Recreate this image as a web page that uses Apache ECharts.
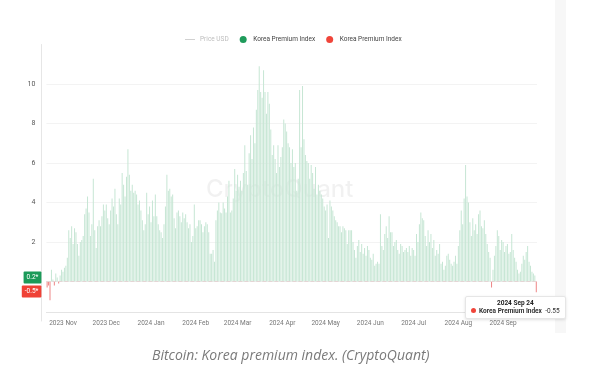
<!DOCTYPE html>
<html><head><meta charset="utf-8">
<script src="https://cdn.jsdelivr.net/npm/echarts@6/dist/echarts.min.js"></script>
<style>html,body{margin:0;padding:0;background:#fff;}#c{width:615px;height:391px;}</style>
</head><body><div id="c"></div>
<script>
const startDate = '2023-10-21';
const kpiValues = [
-0.3,-0.2,-0.95,0.6,0.1,-0.2,0.4,0.2,-0.1,0.3,
0.6,0.5,0.7,0.8,1.2,2.6,2.2,2.8,1.9,2.7,
2.5,1.9,1.3,2.0,2.1,2.3,3.4,3.7,4.3,3.5,
2.3,2.9,5.2,2.6,1.7,2.8,3.1,2.8,3.3,3.9,
3.6,3.9,3.2,2.9,3.6,4.2,3.8,4.7,3.4,2.9,
4.2,3.9,5.5,4.9,4.3,5.3,6.7,5.4,4.6,4.9,
4.5,4.6,4.4,3.9,4.1,3.6,3.1,2.6,2.9,4.5,
3.4,3.8,3.0,4.1,3.3,4.4,3.3,2.9,2.6,2.5,
2.2,2.9,3.8,5.4,4.6,4.7,4.3,4.4,3.2,2.7,
3.5,3.6,3.3,3.0,3.5,3.2,3.4,3.0,2.7,2.9,
2.0,2.3,3.9,2.7,2.8,3.1,3.1,2.9,2.5,2.8,
3.0,2.9,2.5,1.4,1.4,1.6,1.0,3.1,3.6,4.0,
3.5,3.45,4.0,3.7,3.5,4.3,5.1,3.5,3.6,4.2,
5.7,4.6,5.4,4.8,5.1,4.6,5.5,6.9,5.6,4.9,
6.5,7.4,6.2,7.8,7.0,8.7,9.7,10.9,9.6,9.3,
10.7,9.6,8.5,9.6,9.0,7.7,6.4,6.9,6.2,5.5,
6.9,5.8,6.3,6.8,8.2,8.0,7.6,7.0,6.8,6.0,
6.7,5.8,6.0,4.6,5.2,9.7,6.8,9.9,7.2,6.4,
6.1,6.0,5.2,5.9,5.5,4.7,5.8,4.4,4.9,4.6,
4.4,4.2,3.8,3.6,3.9,2.2,4.1,3.8,3.6,3.3,
3.1,3.0,2.8,2.8,2.5,2.8,2.7,2.6,1.9,2.6,
2.6,2.6,2.0,1.6,1.2,1.8,2.1,1.5,1.9,1.4,
1.7,1.3,1.8,1.6,1.2,1.1,1.4,0.8,0.9,1.0,
0.9,3.4,1.8,1.6,2.4,2.8,2.2,3.3,2.5,2.5,
1.8,2.0,2.1,1.6,1.4,1.9,1.8,1.5,1.6,1.7,
1.5,1.8,1.3,1.7,1.6,1.3,2.4,2.0,2.9,3.5,
3.2,3.1,2.3,1.8,2.6,2.0,2.4,1.7,2.1,1.3,
1.6,1.4,1.9,0.9,1.0,0.6,0.8,1.3,1.4,1.1,
0.9,0.8,1.0,1.3,0.9,1.8,2.6,3.6,2.9,4.2,
5.9,4.3,4.0,3.0,2.3,3.2,2.6,2.9,2.4,3.4,
3.6,2.8,2.7,3.1,2.4,1.9,1.5,1.2,-0.3,0.6,
1.3,1.8,2.6,2.3,1.6,2.1,2.0,1.5,1.8,1.9,
1.4,1.5,2.4,1.6,1.2,1.0,0.6,0.4,0.5,0.9,
1.3,1.1,1.5,1.8,1.0,0.8,0.5,0.4,0.3,-0.55
];
const priceUSD = [];
const yAxisRange = [-2, 12];
const yStep = 2;
const badgeValues = [0.2, -0.5];
const badgeLabels = ['0.2*', '-0.5*'];
const legendLabels = {price: 'Price USD', pos: 'Korea Premium Index', neg: 'Korea Premium Index'};
const monthNames = ['Jan','Feb','Mar','Apr','May','Jun','Jul','Aug','Sep','Oct','Nov','Dec'];
const watermark = 'CryptoQuant';
const caption = 'Bitcoin: Korea premium index. (CryptoQuant)';

const dates = [];
const d0 = new Date(startDate + 'T00:00:00Z').getTime();
for (let i = 0; i < kpiValues.length; i++) {
  dates.push(new Date(d0 + i * 86400000).toISOString().slice(0, 10));
}
const monthLabel = s => s.slice(0, 4) + ' ' + monthNames[+s.slice(5, 7) - 1];
const dayLabel = s => monthLabel(s) + ' ' + s.slice(8, 10);
const isMonthStart = (i, v) => v.endsWith('-01');
const posData = kpiValues.map(v => v >= 0 ? v : '-');
const negData = kpiValues.map(v => v < 0 ? v : '-');

const FONT = 'Roboto, "Noto Sans", sans-serif';
const chart = echarts.init(document.getElementById('c'), null, {renderer: 'canvas'});
chart.setOption({
  animation: false,
  textStyle: {fontFamily: FONT},
  legend: {
    left: 180, top: 31, itemWidth: 10, itemHeight: 7, itemGap: 11,
    textStyle: {fontSize: 6.5, color: '#444', fontFamily: FONT},
    inactiveColor: '#bdbdbd',
    selected: {price: false},
    formatter: n => legendLabels[n],
    data: [
      {name: 'price', icon: 'path://M0,0H20V1.4H0Z'},
      {name: 'pos', icon: 'circle', itemStyle: {color: '#1f9b5b'}},
      {name: 'neg', icon: 'circle', itemStyle: {color: '#f0453a'}}
    ]
  },
  grid: {left: 46.4, right: 78, top: 44.5, bottom: 70},
  xAxis: {
    type: 'category', data: dates, boundaryGap: true, offset: -9,
    axisLine: {onZero: false, lineStyle: {color: '#e4e4e4'}},
    axisTick: {alignWithLabel: true, interval: isMonthStart, length: 4, lineStyle: {color: '#dcdcdc'}},
    axisLabel: {interval: isMonthStart, formatter: monthLabel, color: '#777', fontSize: 6.5, margin: 8, fontFamily: FONT},
    splitLine: {show: false}
  },
  yAxis: {
    type: 'value', min: yAxisRange[0], max: yAxisRange[1], interval: yStep, offset: 5,
    axisLine: {show: true, lineStyle: {color: '#e6e6e6'}},
    axisTick: {show: false},
    axisLabel: {showMinLabel: false, showMaxLabel: false, color: '#555', fontSize: 7, margin: 6, fontFamily: FONT},
    splitLine: {showMinLine: false, showMaxLine: false, lineStyle: {color: '#f3f3f3'}}
  },
  tooltip: {
    trigger: 'item', triggerOn: 'none', alwaysShowContent: true,
    position: [465, 296],
    backgroundColor: '#fff', borderColor: '#e6e6e6', borderWidth: 1, padding: [2, 5],
    extraCssText: 'box-shadow:0 1px 3px rgba(0,0,0,0.12);border-radius:2px;',
    formatter: p => '<div style="font:bold 6.5px Roboto;text-align:center;line-height:8px;color:#222">' + dayLabel(p.name) + '</div>' +
      '<div style="font:6.5px Roboto;line-height:9px;color:#333;white-space:nowrap"><span style="display:inline-block;width:5px;height:5px;border-radius:50%;background:#f0453a;margin-right:3px"></span><b>' + legendLabels.neg + '</b>&nbsp;&nbsp;' + p.value + '</div>'
  },
  graphic: [
    {type: 'rect', left: 555, top: 0, shape: {width: 11, height: 333}, style: {fill: '#f7f7f7'}, z: -10},
    {type: 'text', left: 206, top: 178, z: 0, style: {text: watermark, font: '500 24px Inter, Roboto, sans-serif', fill: 'rgba(0,0,0,0.055)'}},
    {type: 'text', left: 152, top: 349, style: {text: caption, font: 'italic 14px "Open Sans", sans-serif', fill: '#7a7a7a'}}
  ],
  series: [
    {name: 'price', type: 'line', data: priceUSD, symbol: 'none', showSymbol: false, lineStyle: {color: '#cfcfcf', width: 1}, itemStyle: {color: '#cfcfcf'}},
    {
      name: 'pos', type: 'bar', data: posData, barWidth: 1, barGap: '-100%',
      itemStyle: {color: '#c6e6d4'},
      markLine: {
        silent: true, symbol: 'none',
        lineStyle: {color: 'rgba(0,0,0,0)', width: 0, type: 'solid'},
        label: {show: true, position: 'start', distance: 5, color: '#fff', fontSize: 6.5, padding: [2.5, 3], borderRadius: 1, fontFamily: FONT},
        data: [
          {yAxis: 0, lineStyle: {type: 'dashed', color: '#e5d5d5', width: 1}, label: {show: false}},
          {yAxis: badgeValues[0], label: {formatter: badgeLabels[0], backgroundColor: '#1b9a59', color: '#fff'}},
          {yAxis: badgeValues[1], label: {formatter: badgeLabels[1], backgroundColor: '#ef4136', color: '#fff'}}
        ]
      }
    },
    {name: 'neg', type: 'bar', data: negData, barWidth: 1, barGap: '-100%', itemStyle: {color: '#ee8585'}}
  ]
});
chart.dispatchAction({type: 'showTip', seriesIndex: 2, dataIndex: kpiValues.length - 1});
</script></body></html>
